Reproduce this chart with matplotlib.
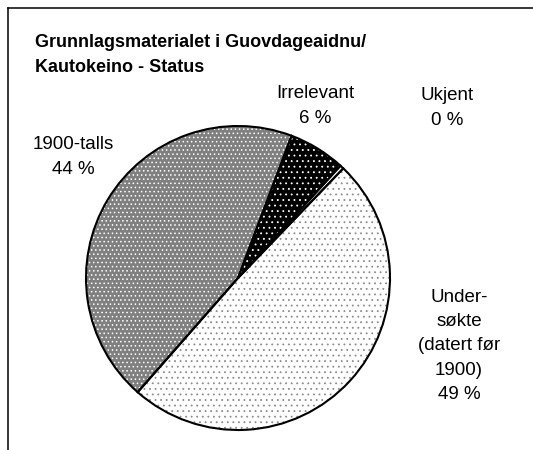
import matplotlib
matplotlib.use("Agg")
import matplotlib.pyplot as plt
from matplotlib.lines import Line2D

# Data
categories = ["1900-talls", "Irrelevant", "Ukjent", "Under-\nsøkte\n(datert før\n1900)"]
values = [44, 6, 0.4, 49]
title = "Grunnlagsmaterialet i Guovdageaidnu/\nKautokeino - Status"

plt.rcParams["hatch.linewidth"] = 0.6

W, H = 533, 450
fig = plt.figure(figsize=(W / 100, H / 100), dpi=100)
fig.patch.set_facecolor("white")

# frame (cropped on right/bottom)
fig.add_artist(Line2D([8 / W, 1.0], [1 - 8 / H, 1 - 8 / H], transform=fig.transFigure,
                      color="black", lw=1.1))
fig.add_artist(Line2D([8 / W, 8 / W], [0.0, 1 - 8 / H], transform=fig.transFigure,
                      color="black", lw=1.1))

fig.text(35 / W, 1 - 55 / H, title, ha="left", va="center", fontsize=13, fontweight="bold",
         family="Liberation Sans", linespacing=1.6)

cx, cy, r = 238, 278, 152
ax = fig.add_axes([(cx - r) / W, (H - cy - r) / H, 2 * r / W, 2 * r / H])
ax.set_aspect("equal")

faces = ["#808080", "black", "white", "white"]
hatch_cols = ["white", "white", "#999999", "#8c8c8c"]
hatches = ["....", "...", "", "..."]

wedges, _ = ax.pie(values, startangle=228.7, counterclock=False,
                   wedgeprops=dict(linewidth=0))
for w, fc in zip(wedges, faces):
    w.set_facecolor(fc)
    w.set_edgecolor("none")

# hatch overlays
wh, _ = ax.pie(values, startangle=228.7, counterclock=False,
               wedgeprops=dict(linewidth=0, fill=False))
for w, hc, h in zip(wh, hatch_cols, hatches):
    w.set_hatch(h)
    w.set_edgecolor(hc)
    w.set_linewidth(0)

# outlines
wo, _ = ax.pie(values, startangle=228.7, counterclock=False,
               wedgeprops=dict(linewidth=1.5, edgecolor="black", fill=False))
ax.set_xlim(-1, 1)
ax.set_ylim(-1, 1)
ax.axis("off")

total = sum(values)
pcts = [v / total * 100 for v in values]
label_pos = [(73, 157), (315, 106), (447, 108), (459, 346)]
for name, p, (lx, ly) in zip(categories, pcts, label_pos):
    fig.text(lx / W, 1 - ly / H, f"{name}\n{p:.0f} %", ha="center", va="center",
             fontsize=13.5, family="Liberation Sans", linespacing=1.55)

fig.savefig("out.png", dpi=100)
